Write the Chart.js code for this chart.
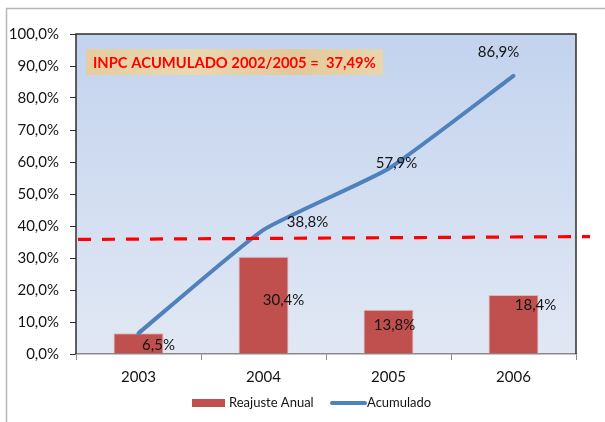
<!DOCTYPE html>
<html>
<head>
<meta charset="utf-8">
<script src="https://cdn.jsdelivr.net/npm/chart.js@4.4.1/dist/chart.umd.min.js"></script>
<style>
    html, body { margin: 0; padding: 0; background: #fff; }
    #wrap { position: relative; width: 605px; height: 422px; }
</style>
</head>
<body>
<div id="wrap"><canvas id="inpcChart" width="605" height="422"></canvas></div>
<script>
// Data
const years = ["2003", "2004", "2005", "2006"];
const reajusteAnual = [6.5, 30.4, 13.8, 18.4];
const acumulado = [6.5, 38.8, 57.9, 86.9];
const yMin = 0;
const yMax = 100;
const yStep = 10;
// red dashed reference line, value at left edge and at right end
const inpcRefLine = [35.8, 36.7];
const inpcNote = "INPC ACUMULADO 2002/2005 =  37,49%";

// label offsets (px) from each mark, the labels were hand-placed in the original
const barLabelOffsets = [[20, 12], [20, 43], [6, 15], [22, 10]];
const lineLabelOffsets = [null, [44, -8], [8, -6], [-15, -24]];

const FONT = "Lato, 'Open Sans', sans-serif";
const TEXT = "#141414";
const RED_BAR = "#C0504D";
const BLUE_LINE = "#4F81BD";

function pct(v) {
    return v.toFixed(1).replace(".", ",") + "%";
}

// white page, outer frame and the blue gradient plot area
const backgroundPlugin = {
    id: "background",
    beforeDraw(chart) {
        const { ctx, chartArea: a, width, height } = chart;
        ctx.save();
        ctx.fillStyle = "#fff";
        ctx.fillRect(0, 0, width, height);

        ctx.strokeStyle = "#b8b8b8";
        ctx.lineWidth = 1.5;
        ctx.beginPath();
        ctx.moveTo(6.5, height);
        ctx.lineTo(6.5, 8.5);
        ctx.lineTo(width, 8.5);
        ctx.stroke();

        const g = ctx.createLinearGradient(0, a.top, 0, a.bottom);
        g.addColorStop(0, "#C3D3EE");
        g.addColorStop(1, "#E1E8F4");
        ctx.fillStyle = g;
        ctx.fillRect(a.left, a.top, a.width, a.height);
        ctx.restore();
    },
    beforeDatasetsDraw(chart) {
        const { ctx, chartArea: a } = chart;
        ctx.save();
        ctx.strokeStyle = "#2e2e2e";
        ctx.lineWidth = 1.5;
        ctx.beginPath();
        ctx.moveTo(a.left, a.bottom);
        ctx.lineTo(a.left, a.top);
        ctx.lineTo(a.right, a.top);
        ctx.lineTo(a.right, a.bottom);
        ctx.stroke();
        ctx.restore();
    },
};

// dashed red line + note box
const referencePlugin = {
    id: "reference",
    afterDatasetsDraw(chart) {
        const { ctx, chartArea: a } = chart;
        const y = chart.scales.y;
        ctx.save();
        ctx.strokeStyle = "#FF0000";
        ctx.lineWidth = 3.2;
        ctx.setLineDash([13, 11]);
        ctx.beginPath();
        ctx.moveTo(a.left + 2, y.getPixelForValue(inpcRefLine[0]));
        ctx.lineTo(a.right + 14, y.getPixelForValue(inpcRefLine[1]));
        ctx.stroke();
        ctx.setLineDash([]);

        // note box
        const bx = a.left + 10, by = a.top + 15, bw = 297, bh = 26;
        const g = ctx.createLinearGradient(bx, by, bx + bw, by + bh);
        g.addColorStop(0, "#E4CD9E");
        g.addColorStop(0.35, "#EAD8B0");
        g.addColorStop(0.7, "#E2C999");
        g.addColorStop(1, "#E9D6AC");
        ctx.fillStyle = g;
        ctx.fillRect(bx, by, bw, bh);

        let size = 18;
        ctx.font = "bold " + size + "px " + FONT;
        while (ctx.measureText(inpcNote).width > 285 && size > 8) {
            size -= 0.25;
            ctx.font = "bold " + size + "px " + FONT;
        }
        ctx.fillStyle = "#FF0000";
        ctx.textAlign = "left";
        ctx.textBaseline = "middle";
        ctx.fillText(inpcNote, bx + 7, by + bh / 2 + 1);
        ctx.restore();
    },
};

// value labels
const valueLabelPlugin = {
    id: "valueLabels",
    afterDatasetsDraw(chart) {
        const { ctx } = chart;
        ctx.save();
        ctx.font = "15px " + FONT;
        ctx.fillStyle = TEXT;
        ctx.textAlign = "center";
        ctx.textBaseline = "middle";

        const bars = chart.getDatasetMeta(0).data;
        bars.forEach((el, i) => {
            const off = barLabelOffsets[i];
            if (!off) return;
            ctx.fillText(pct(reajusteAnual[i]), el.x + off[0], el.y + off[1]);
        });

        const pts = chart.getDatasetMeta(1).data;
        pts.forEach((el, i) => {
            const off = lineLabelOffsets[i];
            if (!off) return;
            ctx.fillText(pct(acumulado[i]), el.x + off[0], el.y + off[1]);
        });
        ctx.restore();
    },
};

// legend under the axis, drawn by hand to keep the original placement
const legendPlugin = {
    id: "customLegend",
    afterDraw(chart) {
        const { ctx } = chart;
        const cy = 403;
        ctx.save();
        ctx.font = "13px " + FONT;
        ctx.fillStyle = TEXT;
        ctx.textAlign = "left";
        ctx.textBaseline = "middle";

        ctx.fillStyle = RED_BAR;
        ctx.fillRect(192, cy - 4, 33, 8);
        ctx.fillStyle = TEXT;
        ctx.fillText("Reajuste Anual", 229, cy);

        ctx.strokeStyle = BLUE_LINE;
        ctx.lineWidth = 4;
        ctx.lineCap = "round";
        ctx.beginPath();
        ctx.moveTo(332, cy);
        ctx.lineTo(365, cy);
        ctx.stroke();
        ctx.fillText("Acumulado", 367, cy);
        ctx.restore();
    },
};

const axisFont = { family: FONT, size: 15 };

new Chart(document.getElementById("inpcChart"), {
    type: "bar",
    data: {
        labels: years,
        datasets: [
            {
                type: "bar",
                label: "Reajuste Anual",
                data: reajusteAnual,
                backgroundColor: RED_BAR,
                borderColor: "rgba(230,170,170,0.8)",
                borderWidth: 1,
                barPercentage: 0.4,
                categoryPercentage: 1,
                order: 1,
            },
            {
                type: "line",
                label: "Acumulado",
                data: acumulado,
                borderColor: BLUE_LINE,
                borderWidth: 4,
                borderCapStyle: "round",
                tension: 0.15,
                pointRadius: 0,
                fill: false,
                order: 0,
            },
        ],
    },
    options: {
        responsive: false,
        animation: false,
        layout: { padding: { top: 34, right: 29, bottom: 38, left: 0 } },
        plugins: {
            legend: { display: false },
            tooltip: { enabled: false },
        },
        scales: {
            x: {
                offset: true,
                grid: { drawOnChartArea: false, offset: true, tickLength: 6, color: "#8a8a8a" },
                border: { color: "#8a8a8a", width: 1.5 },
                ticks: { font: axisFont, color: TEXT, padding: 8 },
                afterFit(s) { s.height = 30; },
            },
            y: {
                min: yMin,
                max: yMax,
                grid: { drawOnChartArea: false, tickLength: 6, color: "#2e2e2e" },
                border: { display: false },
                ticks: {
                    stepSize: yStep,
                    font: axisFont,
                    color: TEXT,
                    padding: 11,
                    callback: (v) => pct(v),
                },
                afterFit(s) { s.width = 76; },
            },
        },
    },
    plugins: [backgroundPlugin, referencePlugin, valueLabelPlugin, legendPlugin],
});
</script>
</body>
</html>
